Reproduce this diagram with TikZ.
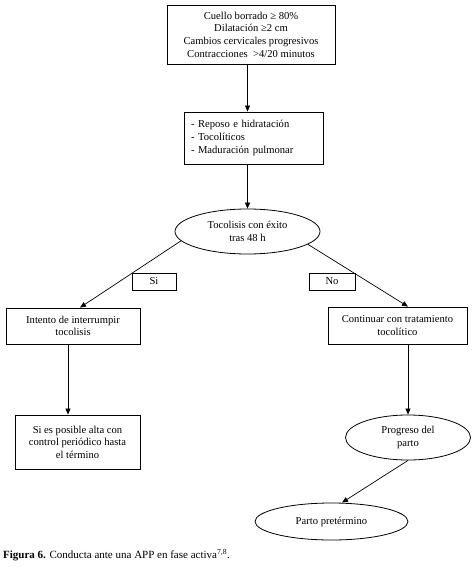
\documentclass[tikz,border=0pt]{standalone}
\usepackage{fontspec}
\setmainfont{Liberation Serif}
\usetikzlibrary{shapes.geometric,arrows.meta}
\begin{document}
\begin{tikzpicture}[x=1pt,y=-1pt,
        caja/.style={draw,line width=0.8pt,rectangle,align=center,font=\fontsize{10.6}{12.6}\selectfont,inner sep=2pt},
        elipse/.style={draw,line width=0.8pt,ellipse,align=center,font=\fontsize{10.6}{12.6}\selectfont,inner sep=0pt},
        flecha/.style={line width=0.7pt,-{Triangle[length=6pt,width=5pt]}}]
        \useasboundingbox (0,0) rectangle (474,567);

        \node[caja,minimum width=168,minimum height=59] (cuello) at (251,34.5)
            {Cuello borrado ≥ 80\%\\Dilatación ≥2 cm\\Cambios cervicales progresivos\\Contracciones \ >4/20 minutos};
        \node[caja,minimum width=139,minimum height=52,text width=125,align=left,inner xsep=7pt] (medidas) at (253.5,138)
            {- Reposo e hidratación\\- Tocolíticos\\- Maduración pulmonar\\[10pt]};
        \node[elipse,minimum width=145,minimum height=45] (tocolisis) at (247.5,231.5)
            {Tocolisis con éxito\\tras 48 h};

        \node[caja,minimum width=44,minimum height=17] (si) at (154,281.5) {Si};
        \node[caja,minimum width=46,minimum height=17] (no) at (332,281.5) {No};

        \node[caja,minimum width=134,minimum height=36] (intento) at (73,326) {Intento de interrumpir\\tocolisis};
        \node[caja,minimum width=139,minimum height=37] (continuar) at (397.5,325.5) {Continuar con tratamiento\\tocolítico};

        \node[caja,minimum width=125,minimum height=54] (alta) at (77.5,442)
            {Si es posible alta con\\control periódico hasta\\el término};
        \node[elipse,minimum width=125,minimum height=45] (progreso) at (408,437.5) {Progreso del\\parto};
        \node[elipse,minimum width=153,minimum height=37] (pretermino) at (331.5,521.5) {Parto pretérmino};

        \node[anchor=west,inner sep=0pt,font=\fontsize{11}{13}\selectfont] (pie) at (3,555)
            {\textbf{Figura 6.} Conducta ante una APP en fase activa\textsuperscript{7,8}.};

        % conectores
        \draw[flecha] (cuello.south -| tocolisis.north) -- (medidas.north -| tocolisis.north);
        \draw[flecha] (medidas.south -| tocolisis.north) -- (tocolisis.north);
        \draw[flecha] (tocolisis.188) -- ([xshift=7pt]intento.north);
        \draw[flecha] (tocolisis.-12) -- ([xshift=10.5pt]continuar.north);
        \draw[flecha] ([xshift=-5pt]intento.south) -- ([xshift=-5pt]intento.south |- alta.north);
        \draw[flecha] (continuar.south -| progreso.north) -- (progreso.north);
        \draw[flecha] (progreso.south) -- ([xshift=10.5pt]pretermino.north);
\end{tikzpicture}
\end{document}
